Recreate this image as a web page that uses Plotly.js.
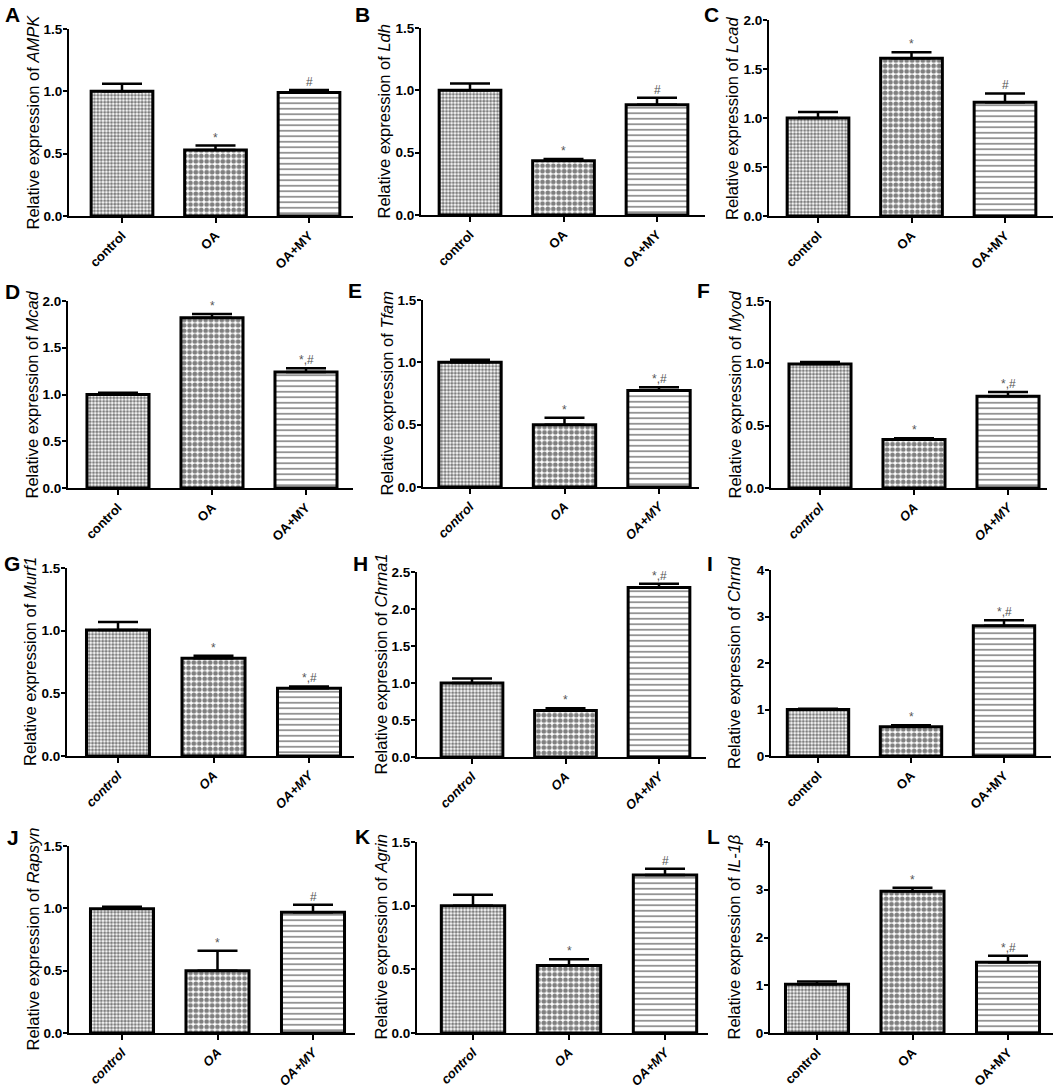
<!DOCTYPE html>
<html>
<head>
<meta charset="utf-8">
<script src="https://cdn.plot.ly/plotly-3.0.1.min.js"></script>
<style>html,body{margin:0;padding:0;background:#fff;}#chart{width:1059px;height:1091px;}</style>
</head>
<body>
<div id="chart"></div>
<script>
// ---- data ----
const categories = ['control', 'OA', 'OA+MY'];
const panelLetters = ['A','B','C','D','E','F','G','H','I','J','K','L'];
const genes = ['AMPK','Ldh','Lcad','Mcad','Tfam','Myod','Murf1','Chrna1','Chrnd','Rapsyn','Agrin','IL-1β'];

const ampkMean   = [1.00, 0.53, 0.99];   const ampkErr   = [0.06, 0.035, 0.02];
const ldhMean    = [1.00, 0.435, 0.885]; const ldhErr    = [0.055, 0.015, 0.055];
const lcadMean   = [1.00, 1.61, 1.16];   const lcadErr   = [0.06, 0.06, 0.09];
const mcadMean   = [1.00, 1.82, 1.24];   const mcadErr   = [0.02, 0.04, 0.04];
const tfamMean   = [1.00, 0.50, 0.775];  const tfamErr   = [0.02, 0.055, 0.025];
const myodMean   = [0.995, 0.39, 0.735]; const myodErr   = [0.015, 0.01, 0.035];
const murf1Mean  = [1.005, 0.78, 0.54];  const murf1Err  = [0.065, 0.02, 0.015];
const chrna1Mean = [1.00, 0.63, 2.29];   const chrna1Err = [0.06, 0.03, 0.05];
const chrndMean  = [1.00, 0.63, 2.80];   const chrndErr  = [0.015, 0.03, 0.12];
const rapsynMean = [0.997, 0.50, 0.968]; const rapsynErr = [0.015, 0.16, 0.06];
const agrinMean  = [1.00, 0.53, 1.24];   const agrinErr  = [0.085, 0.05, 0.05];
const il1bMean   = [1.02, 2.97, 1.48];   const il1bErr   = [0.06, 0.07, 0.14];

const oaMarks   = ['*','*','*','*','*','*','*','*','*','*','*','*'];
const oamyMarks = ['#','#','#','*,#','*,#','*,#','*,#','*,#','*,#','#','#','*,#'];
const yMax   = [1.5, 1.5, 2.0, 2.0, 1.5, 1.5, 1.5, 2.5, 4, 1.5, 1.5, 4];
const yDtick = [0.5, 0.5, 0.5, 0.5, 0.5, 0.5, 0.5, 0.5, 1, 0.5, 0.5, 1];

const means = [ampkMean, ldhMean, lcadMean, mcadMean, tfamMean, myodMean, murf1Mean, chrna1Mean, chrndMean, rapsynMean, agrinMean, il1bMean];
const errs  = [ampkErr, ldhErr, lcadErr, mcadErr, tfamErr, myodErr, murf1Err, chrna1Err, chrndErr, rapsynErr, agrinErr, il1bErr];

// ---- layout geometry (pixels): axisX, endX, controlCenter, oamyCenter, top, bottom ----
const geom = [
  [69, 353, 122, 309, 29, 216],
  [421, 705, 470, 657, 28, 215],
  [769, 1053, 818, 1005, 20, 216],
  [68, 353, 118, 306, 301, 488],
  [423, 699, 470, 659, 300, 487],
  [771, 1047, 820, 1008, 301, 488],
  [67, 354, 118, 309, 568, 756],
  [417, 706, 472, 659, 572, 757],
  [771, 1051, 818, 1004, 570, 756],
  [69, 355, 122, 313, 846, 1033],
  [417, 708, 473, 665, 842, 1033],
  [770, 1053, 817, 1008, 842, 1033]
];
const letterPos = [[12,15],[362,15],[711,15],[12,292],[355,290],[703,290],[12,563],[360,563],[710,563],[13,837],[362,836],[713,836]];
const italicCats = [false,false,false,false,true,true,true,true,false,true,true,false];

const W = 1059, H = 1091;
const FONT = '"Liberation Sans", Arial, Helvetica, sans-serif';
const data = [];
const layout = {
  width: W, height: H,
  margin: {l:0, r:0, t:0, b:0},
  paper_bgcolor: '#fff', plot_bgcolor: 'rgba(0,0,0,0)',
  showlegend: false,
  annotations: []
};

for (let i = 0; i < 12; i++) {
  const n = i === 0 ? '' : String(i + 1);
  const [ax, ex, c0, c2, top, bot] = geom[i];
  const s = (c2 - c0) / 2;
  const r0 = -(c0 - ax) / s;
  const r1 = 2 + (ex - c2) / s;

  data.push({
    type: 'bar',
    x: categories,
    y: means[i],
    xaxis: 'x' + n, yaxis: 'y' + n,
    width: 0.66,
    marker: {
      color: 'white',
      line: {color: 'black', width: 3},
      pattern: {
        shape: ['.', '.', '-'],
        size: [3.4, 5.4, 5.5],
        solidity: [0.6, 0.6, 0.3],
        fgcolor: ['black', 'black', '#111'],
        bgcolor: 'white',
        fillmode: 'overlay'
      }
    },
    error_y: {
      type: 'data', symmetric: false,
      array: errs[i], arrayminus: [0, 0, 0],
      color: 'black', thickness: 2.5, width: 20
    },
    hoverinfo: 'skip'
  });

  layout['xaxis' + n] = {
    domain: [ax / W, ex / W],
    anchor: 'y' + n,
    type: 'category',
    range: [r0, r1],
    showline: true, linecolor: 'black', linewidth: 2,
    ticks: 'outside', ticklen: 5, tickwidth: 2, tickcolor: 'black',
    tickangle: -45,
    tickfont: {family: FONT, size: 13, color: 'black', weight: 'bold', style: italicCats[i] ? 'italic' : 'normal'},
    showgrid: false, zeroline: false, fixedrange: true
  };
  layout['yaxis' + n] = {
    domain: [1 - bot / H, 1 - top / H],
    anchor: 'x' + n,
    range: [0, yMax[i]],
    dtick: yDtick[i],
    tickformat: yDtick[i] < 1 ? '.1f' : 'd',
    showline: true, linecolor: 'black', linewidth: 2,
    ticks: 'outside', ticklen: 4, tickwidth: 2, tickcolor: 'black',
    ticklabelstandoff: -2,
    tickfont: {family: FONT, size: 13.5, color: 'black', weight: 'bold'},
    showgrid: false, zeroline: false, fixedrange: true
  };

  // significance marks
  const marks = [null, oaMarks[i], oamyMarks[i]];
  for (let k = 1; k < 3; k++) {
    layout.annotations.push({
      xref: 'x' + n, yref: 'y' + n,
      x: categories[k], y: means[i][k] + errs[i][k],
      text: marks[k], showarrow: false,
      xanchor: 'center', yanchor: 'bottom', yshift: -1,
      font: {family: FONT, size: 12, color: '#555'}
    });
  }

  // y-axis title
  layout.annotations.push({
    xref: 'paper', yref: 'paper',
    x: (ax - 37) / W, y: 1 - ((top + bot) / 2) / H,
    text: 'Relative expression of <i>' + genes[i] + '</i>',
    textangle: -90, showarrow: false,
    xanchor: 'center', yanchor: 'middle',
    font: {family: FONT, size: 16.5, color: 'black'}
  });

  // panel letter
  layout.annotations.push({
    xref: 'paper', yref: 'paper',
    x: letterPos[i][0] / W, y: 1 - letterPos[i][1] / H,
    text: '<b>' + panelLetters[i] + '</b>', showarrow: false,
    xanchor: 'center', yanchor: 'middle',
    font: {family: FONT, size: 21, color: 'black'}
  });
}

Plotly.newPlot('chart', data, layout, {staticPlot: true, displayModeBar: false});
</script>
</body>
</html>
